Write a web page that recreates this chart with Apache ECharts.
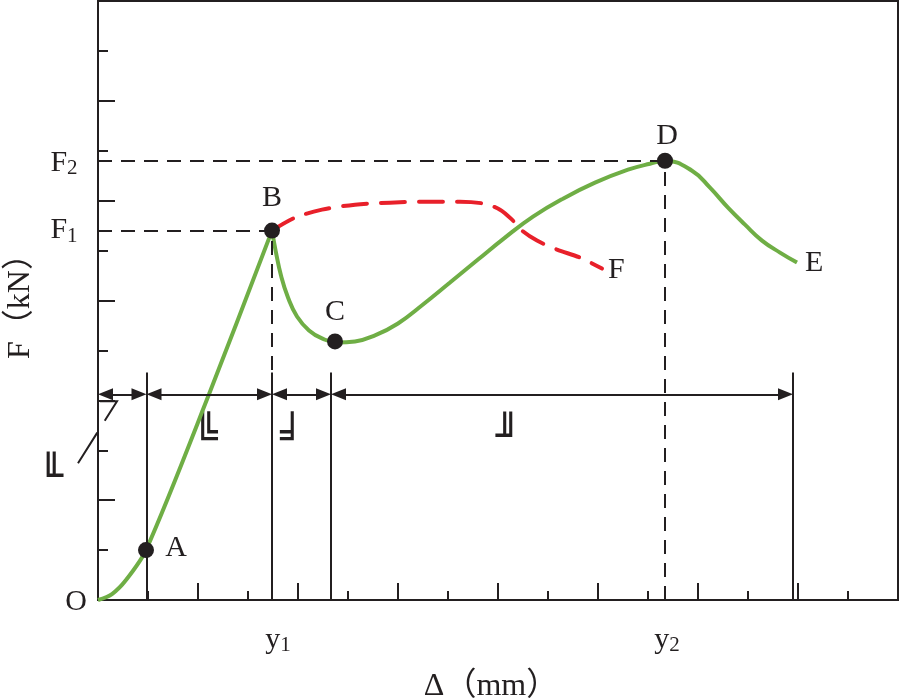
<!DOCTYPE html>
<html>
<head>
<meta charset="utf-8">
<script src="https://cdn.jsdelivr.net/npm/echarts@6/dist/echarts.min.js"></script>
<style>
  html, body { margin: 0; padding: 0; background: #fff; }
  #chart { width: 900px; height: 698px; }
</style>
</head>
<body>
<div id="chart"></div>
<script>
// 加载段 O-A-B
const loadX = [0, 0.28, 0.56, 0.96, 2.22, 3.48]
const loadY = [0, 0.12, 0.4, 1.0, 4.12, 7.4]
// 主曲线 B-C-D-E
const mainX = [3.48, 3.56, 3.66, 3.8, 3.98, 4.22, 4.48, 4.78, 5.14, 5.54, 6.0, 6.5, 7.04, 7.6, 8.14, 8.7, 9.3, 9.94, 10.6, 11.04, 11.34, 11.88, 12.24, 12.6, 12.94, 13.28, 13.64, 13.98]
const mainY = [7.4, 6.96, 6.5, 6.06, 5.68, 5.4, 5.24, 5.16, 5.18, 5.3, 5.54, 5.92, 6.36, 6.82, 7.26, 7.68, 8.04, 8.36, 8.62, 8.74, 8.8, 8.6, 8.26, 7.86, 7.52, 7.2, 6.96, 6.76]
// 虚线 B-F
const dashX = [3.48, 3.94, 4.48, 5.14, 5.84, 6.54, 7.24, 7.72, 8.04, 8.28, 8.48, 8.78, 9.18, 9.64, 10.08]
const dashY = [7.4, 7.66, 7.82, 7.92, 7.96, 7.98, 7.98, 7.94, 7.82, 7.62, 7.4, 7.2, 7.02, 6.86, 6.64]
// 特征点
const pointNames = ['A', 'B', 'C', 'D']
const pointX = [0.96, 3.48, 4.74, 11.34]
const pointY = [1.0, 7.4, 5.18, 8.8]
// 分段竖线与箭头
const stageX = [0, 0.97, 3.48, 4.66, 13.9]
const stageTop = 4.56
const arrowY = 4.12
// 分段标注
const stageMarks = ['╚', '╛', '╜']
const stageMarkX = [2.16, 3.88, 8.2]
const stageMarkY = 3.24
const leadMark = '╙'
const leadMarkX = -0.93
const leadMarkY = 2.44
const leadX = [0.04, 0.38, -0.4]
const leadY = [3.98, 3.98, 2.74]

const ink = '#231f20'
const serif = "'Liberation Serif', 'Times New Roman', 'Noto Sans CJK SC', serif"
const green = '#6fae45'
const red = '#e8202a'

const zip = (xs, ys) => xs.map((x, i) => [x, ys[i]])

const chartDom = document.getElementById('chart')
const chart = echarts.init(chartDom)

const richSub = {
  m: {fontFamily: serif, fontSize: 30, lineHeight: 32, color: ink},
  s: {fontFamily: serif, fontSize: 21, lineHeight: 17, verticalAlign: 'bottom', color: ink},
}

function textItem(x, y, text, dx, dy) {
  return {
    value: [x, y],
    label: {show: true, position: 'inside', offset: [dx, dy], formatter: text},
  }
}

const pointOffsets = [[30, -2], [0, -32], [0, -29], [2, -25]]

const labelData = [
  textItem(0, 0, 'O', -22, 2),
  textItem(0, pointY[3], '{m|F}{s|2}', -34, 2),
  textItem(0, pointY[1], '{m|F}{s|1}', -34, 0),
  textItem(pointX[1], 0, '{m|y}{s|1}', 6, 40),
  textItem(pointX[3], 0, '{m|y}{s|2}', 2, 40),
]

const markData = stageMarks.map((t, i) => ({
  value: [stageMarkX[i], stageMarkY],
  label: {show: true, position: 'inside', formatter: t},
}))
markData.push({
  value: [leadMarkX, leadMarkY],
  label: {show: true, position: 'inside', formatter: leadMark},
})

const guideStyle = {color: ink, width: 2, type: [14, 9]}
const solidStyle = {color: ink, width: 2, type: 'solid'}

const markLines = [
  [{coord: [0, pointY[1]], lineStyle: guideStyle}, {coord: [pointX[1], pointY[1]]}],
  [{coord: [0, pointY[3]], lineStyle: guideStyle}, {coord: [pointX[3], pointY[3]]}],
  [{coord: [pointX[1], 0], lineStyle: guideStyle}, {coord: [pointX[1], pointY[1]]}],
  [{coord: [pointX[3], 0], lineStyle: guideStyle}, {coord: [pointX[3], pointY[3]]}],
]
stageX.slice(1).forEach(x => {
  markLines.push([{coord: [x, 0], lineStyle: solidStyle}, {coord: [x, stageTop]}])
})

// 箭头三角形以端点为中心，向内收半个箭头长
const arrowInset = 0.15
const arrowLines = []
for (let i = 0; i < stageX.length - 1; i++) {
  arrowLines.push([
    {coord: [stageX[i] + arrowInset, arrowY]},
    {coord: [stageX[i + 1] - arrowInset, arrowY]},
  ])
}

const option = {
  animation: false,
  backgroundColor: '#fff',
  grid: {
    left: 98, right: 2, top: 1, bottom: 98,
    containLabel: false,
    outerBoundsMode: 'none',
    show: true, borderColor: ink, borderWidth: 2,
  },
  xAxis: {
    type: 'value',
    min: 0,
    max: 16,
    interval: 2,
    name: 'Δ（mm）',
    nameLocation: 'middle',
    nameGap: 71,
    nameTextStyle: {fontFamily: serif, fontSize: 32, color: ink, padding: [0, 14, 0, 0]},
    axisLine: {show: true, onZero: false, lineStyle: {color: ink, width: 2}},
    axisTick: {show: true, inside: true, length: 17, lineStyle: {color: ink, width: 2}},
    minorTick: {show: true, splitNumber: 2, length: 9, lineStyle: {color: ink, width: 2}},
    axisLabel: {show: false},
    splitLine: {show: false},
  },
  yAxis: {
    type: 'value',
    min: 0,
    max: 12,
    interval: 2,
    name: 'F（kN）',
    nameLocation: 'middle',
    nameRotate: 90,
    nameGap: 61,
    nameTextStyle: {fontFamily: serif, fontSize: 32, color: ink, padding: [0, 0, 0, 4]},
    axisLine: {show: true, onZero: false, lineStyle: {color: ink, width: 2}},
    axisTick: {show: true, inside: true, length: 17, lineStyle: {color: ink, width: 2}},
    minorTick: {show: true, splitNumber: 2, length: 10, lineStyle: {color: ink, width: 2}},
    axisLabel: {show: false},
    splitLine: {show: false},
  },
  series: [
    {
      // 参考线、分段竖线
      type: 'line',
      data: [],
      silent: true,
      markLine: {
        silent: true,
        symbol: 'none',
        label: {show: false},
        lineStyle: solidStyle,
        data: markLines,
      },
    },
    {
      // 分段箭头
      type: 'line',
      data: [],
      silent: true,
      markLine: {
        silent: true,
        symbol: ['triangle', 'triangle'],
        symbolSize: [12, 15],
        label: {show: false},
        lineStyle: {color: ink, width: 2, type: 'solid'},
        itemStyle: {color: ink},
        data: arrowLines,
      },
    },
    {
      type: 'line',
      data: zip(dashX, dashY),
      smooth: 0.3,
      showSymbol: false,
      lineStyle: {color: red, width: 4, type: [24, 14], cap: 'round'},
      endLabel: {show: true, formatter: 'F', fontFamily: serif, fontSize: 30, color: ink, distance: 6, offset: [0, 2]},
    },
    {
      type: 'line',
      data: zip(loadX, loadY),
      smooth: 0.3,
      showSymbol: false,
      lineStyle: {color: green, width: 4},
    },
    {
      type: 'line',
      data: zip(mainX, mainY),
      smooth: 0.45,
      showSymbol: false,
      lineStyle: {color: green, width: 4},
      endLabel: {show: true, formatter: 'E', fontFamily: serif, fontSize: 30, color: ink, distance: 8, offset: [0, 1]},
    },
    {
      type: 'scatter',
      symbolSize: 16,
      itemStyle: {color: ink, opacity: 1},
      z: 5,
      data: pointNames.map((n, i) => ({
        value: [pointX[i], pointY[i]],
        label: {
          show: true,
          position: 'inside',
          offset: pointOffsets[i],
          formatter: n,
          fontFamily: serif,
          fontSize: 30,
          color: ink,
        },
      })),
    },
    {
      type: 'scatter',
      symbolSize: 1,
      clip: false,
      itemStyle: {color: 'transparent', opacity: 1},
      label: {show: true, fontFamily: serif, fontSize: 30, color: ink, rich: richSub},
      data: labelData,
    },
    {
      type: 'scatter',
      symbolSize: 1,
      clip: false,
      itemStyle: {color: 'transparent', opacity: 1},
      label: {show: true, fontFamily: "'DejaVu Sans Mono', monospace", fontSize: 40, color: ink},
      data: markData,
    },
  ],
}

option && chart.setOption(option)

// 引线（越过坐标轴，用 graphic 按坐标换算绘制）
const leadPts = leadX.map((x, i) => chart.convertToPixel({gridIndex: 0}, [x, leadY[i]]))
chart.setOption({
  graphic: [{
    type: 'polyline',
    silent: true,
    shape: {points: leadPts},
    style: {stroke: ink, lineWidth: 2, lineDash: [40, 14], fill: null},
  }],
})
</script>
</body>
</html>
